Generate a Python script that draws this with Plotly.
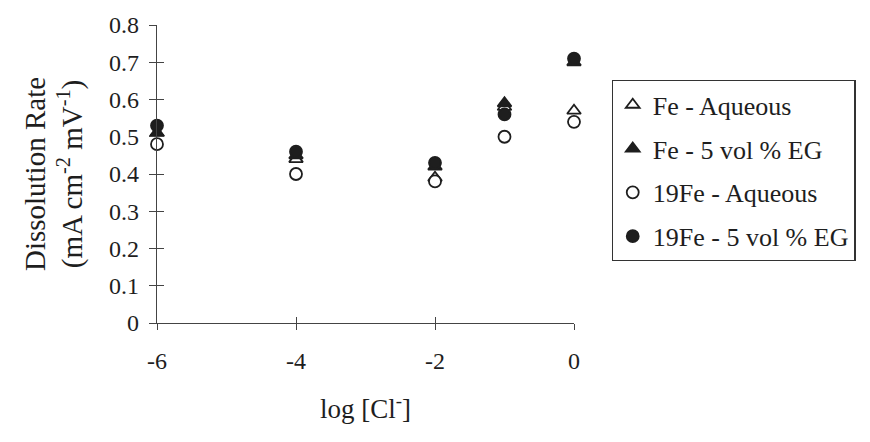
import plotly.graph_objects as go

# log of chloride concentration
log_cl = [-6, -4, -2, -1, 0]

# dissolution rate, mA cm^-2 mV^-1
fe_aqueous = [0.51, 0.44, 0.39, 0.58, 0.57]
fe_eg = [0.51, 0.45, 0.42, 0.59, 0.70]
fe19_aqueous = [0.48, 0.40, 0.38, 0.50, 0.54]
fe19_eg = [0.53, 0.46, 0.43, 0.56, 0.71]

series_names = ["Fe - Aqueous", "Fe - 5 vol % EG", "19Fe - Aqueous", "19Fe - 5 vol % EG"]
series_values = [fe_aqueous, fe_eg, fe19_aqueous, fe19_eg]
series_symbols = ["triangle-up", "triangle-up", "circle", "circle"]
series_filled = [False, True, False, True]

y_ticks = [0, 0.1, 0.2, 0.3, 0.4, 0.5, 0.6, 0.7, 0.8]
y_tick_text = ["0", "0.1", "0.2", "0.3", "0.4", "0.5", "0.6", "0.7", "0.8"]
x_ticks = [-6, -4, -2, 0]
x_tick_text = ["-6", "-4", "-2", "0"]

INK = "#1e1e1e"
SERIF = "Liberation Serif"

fig = go.Figure()
for i, (name, vals, sym, filled) in enumerate(zip(series_names, series_values, series_symbols, series_filled)):
    fig.add_trace(go.Scatter(
        x=log_cl, y=vals, name=name, mode="markers",
        legendgroup=f"g{i}",
        marker=dict(symbol=sym, size=12,
                    color=INK if filled else "white",
                    line=dict(color=INK, width=1.8)),
        cliponaxis=False,
    ))

# invisible trace on the overlay axes so their inner tick marks are drawn
fig.add_trace(go.Scatter(x=[-6], y=[0], xaxis="x2", yaxis="y2", mode="markers",
                         marker=dict(opacity=0), showlegend=False, hoverinfo="skip"))

fig.update_layout(
    width=870, height=442,
    margin=dict(l=157, r=296, t=25, b=119),
    paper_bgcolor="white", plot_bgcolor="white",
    font=dict(family=SERIF, color=INK, size=24),
    showlegend=True,
    legend=dict(
        x=1.09, y=0.815, xanchor="left", yanchor="top",
        bordercolor="#333", borderwidth=1.2, bgcolor="white",
        font=dict(family=SERIF, size=26, color=INK),
        tracegroupgap=7, itemsizing="trace", itemwidth=30,
    ),
    xaxis=dict(
        range=[-6, 0], tickvals=x_ticks, ticktext=x_tick_text,
        showgrid=False, zeroline=False, showline=True, linecolor="#444", linewidth=1.2,
        ticks="outside", ticklen=6, tickcolor="#444", tickwidth=1.2,
        ticklabelstandoff=10,
        tickfont=dict(family=SERIF, size=24),
        title=dict(text="log [Cl<sup>-</sup>]", font=dict(family=SERIF, size=27), standoff=26),
    ),
    yaxis=dict(
        range=[0, 0.8], tickvals=y_ticks, ticktext=y_tick_text,
        showgrid=False, zeroline=False, showline=True, linecolor="#444", linewidth=1.2,
        ticks="outside", ticklen=7, tickcolor="#444", tickwidth=1.2,
        ticklabelstandoff=5,
        tickfont=dict(family=SERIF, size=24),
        title=dict(text="Dissolution Rate<br>(mA cm<sup>-2</sup> mV<sup>-1</sup>)",
                   font=dict(family=SERIF, size=29), standoff=17),
    ),
    xaxis2=dict(
        overlaying="x", range=[-6, 0], tickvals=x_ticks, showticklabels=False,
        showgrid=False, zeroline=False, showline=False,
        ticks="inside", ticklen=6, tickcolor="#444", tickwidth=1.2,
    ),
    yaxis2=dict(
        overlaying="y", range=[0, 0.8], tickvals=y_ticks, showticklabels=False,
        showgrid=False, zeroline=False, showline=False,
        ticks="inside", ticklen=7, tickcolor="#444", tickwidth=1.2,
    ),
)

fig.write_html("out.html")
